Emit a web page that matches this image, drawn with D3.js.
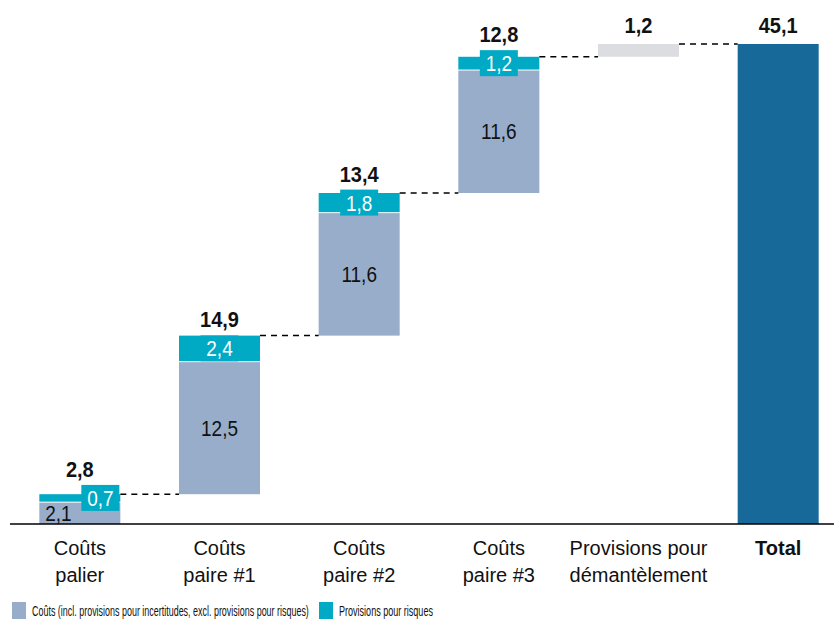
<!DOCTYPE html>
<html>
<head>
<meta charset="utf-8">
<script src="https://cdn.jsdelivr.net/npm/d3@7"></script>
<style>
  body { margin: 0; background: #fff; }
  svg text { font-family: "Liberation Sans", Arial, sans-serif; }
</style>
</head>
<body>
<svg id="chart" width="834" height="621"></svg>
<script>
// data
var categories = ["palier", "paire1", "paire2", "paire3", "demantelement", "total"];
var categoryLines = [["Coûts", "palier"], ["Coûts", "paire #1"], ["Coûts", "paire #2"],
   ["Coûts", "paire #3"], ["Provisions pour", "démantèlement"], ["Total"]];
var costs = [2.1, 12.5, 11.6, 11.6];
var provisions = [0.7, 2.4, 1.8, 1.2];
var decommissioning = 1.2;
var total = 45.1;
var legendLabels = ["Coûts (incl. provisions pour incertitudes, excl. provisions pour risques)",
   "Provisions pour risques"];

var colCost = "#97adc9",
   colProv = "#00aac5",
   colDecom = "#dcdde1",
   colTotal = "#17699a";

function fmt(v) {
   return v.toFixed(1).replace(".", ",");
}

var svg = d3.select("#chart");

var x = d3.scaleBand().domain(categories).range([10, 848]).paddingInner(0.42).paddingOuter(0.21);
var y = d3.scaleLinear().domain([0, total]).range([524, 44]);
var bw = x.bandwidth();

// build stacked pieces
var segs = [], tops = [], base = 0;
costs.forEach(function (c, i) {
   segs.push({cat: categories[i], y0: base, y1: base + c, type: "cost", v: c, i: i});
   segs.push({cat: categories[i], y0: base + c, y1: base + c + provisions[i], type: "prov", v: provisions[i], i: i});
   base += c + provisions[i];
   tops.push({cat: categories[i], level: base, label: fmt(c + provisions[i]), boxed: true, mid: base - provisions[i] / 2});
});
segs.push({cat: "demantelement", y0: base, y1: base + decommissioning, type: "decom"});
base += decommissioning;
tops.push({cat: "demantelement", level: base, label: fmt(decommissioning), boxed: false});
segs.push({cat: "total", y0: 0, y1: total, type: "total"});
tops.push({cat: "total", level: total, label: fmt(total), boxed: false});

var colorOf = {cost: colCost, prov: colProv, decom: colDecom, total: colTotal};

// bars
svg.append("g").selectAll("rect").data(segs).enter().append("rect")
   .attr("x", function (d) { return x(d.cat); })
   .attr("width", bw)
   .attr("y", function (d) { return y(d.y1) + (d.type === "cost" ? 1 : 0); })
   .attr("height", function (d) { return y(d.y0) - y(d.y1) - (d.type === "cost" ? 1 : 0); })
   .attr("fill", function (d) { return colorOf[d.type]; });

// connectors
svg.append("g").selectAll("line").data(tops.slice(0, -1)).enter().append("line")
   .attr("x1", function (d) { return x(d.cat) + bw; })
   .attr("x2", function (d, i) { return x(categories[i + 1]); })
   .attr("y1", function (d) { return y(d.level); })
   .attr("y2", function (d) { return y(d.level); })
   .attr("stroke", "#000")
   .attr("stroke-width", 1.5)
   .attr("stroke-dasharray", "6,5");

// axis line
svg.append("line").attr("x1", 10).attr("x2", 834).attr("y1", 524).attr("y2", 524)
   .attr("stroke", "#000").attr("stroke-width", 1.5);

// cost labels
var costSegs = segs.filter(function (d) { return d.type === "cost"; });
svg.append("g").selectAll("text").data(costSegs).enter().append("text")
   .attr("transform", function (d) {
      var cx = d.i === 0 ? x(d.cat) + 19 : x(d.cat) + bw / 2;
      return "translate(" + cx + "," + (y((d.y0 + d.y1) / 2) + 8) + ") scale(1,1.2)";
   })
   .attr("text-anchor", "middle")
   .attr("font-size", 19)
   .attr("fill", "#111")
   .text(function (d) { return fmt(d.v); });

// provision label boxes
var provSegs = segs.filter(function (d) { return d.type === "prov"; });
var pg = svg.append("g").selectAll("g").data(provSegs).enter().append("g")
   .attr("transform", function (d) {
      var cx = d.i === 0 ? x(d.cat) + bw - 20 : x(d.cat) + bw / 2;
      return "translate(" + cx + "," + y((d.y0 + d.y1) / 2) + ")";
   });
pg.append("rect").attr("x", -19).attr("y", -13).attr("width", 38).attr("height", 26)
   .attr("fill", colProv);
pg.append("text")
   .attr("transform", "translate(0,8) scale(1,1.2)")
   .attr("text-anchor", "middle")
   .attr("font-size", 19)
   .attr("fill", "#fff")
   .text(function (d) { return fmt(d.v); });

// total labels on top
svg.append("g").selectAll("text").data(tops).enter().append("text")
   .attr("transform", function (d) {
      var t = d.boxed ? Math.min(y(d.level), y(d.mid) - 13) : y(d.level);
      return "translate(" + (x(d.cat) + bw / 2) + "," + (t - (d.boxed ? 8 : 11)) + ") scale(1,1.1)";
   })
   .attr("text-anchor", "middle")
   .attr("font-size", 20)
   .attr("font-weight", "bold")
   .attr("fill", "#111")
   .text(function (d) { return d.label; });

// category labels
var cg = svg.append("g").selectAll("text").data(categories).enter().append("text")
   .attr("x", function (d) { return x(d) + bw / 2; })
   .attr("y", 555)
   .attr("text-anchor", "middle")
   .attr("font-size", 20)
   .attr("font-weight", function (d) { return d === "total" ? "bold" : "normal"; })
   .attr("fill", "#111");
cg.selectAll("tspan").data(function (d, i) { return categoryLines[i]; }).enter().append("tspan")
   .attr("x", function () { return x(d3.select(this.parentNode).datum()) + bw / 2; })
   .attr("dy", function (d, i) { return i === 0 ? 0 : 27; })
   .text(function (d) { return d; });

// legend - condensed text squeezed to the reference widths
var legX = [12, 319],
   legW = [277, 94];
var lg = svg.append("g").selectAll("g").data(legendLabels).enter().append("g")
   .attr("transform", function (d, i) { return "translate(" + legX[i] + ",602)"; });
lg.append("rect").attr("width", 14).attr("height", 17)
   .attr("fill", function (d, i) { return i === 0 ? colCost : colProv; });
lg.append("text")
   .attr("font-size", 15)
   .attr("fill", "#111")
   .text(function (d) { return d; })
   .attr("transform", function (d, i) {
      var w = this.getComputedTextLength();
      return "translate(20,14) scale(" + (legW[i] / w) + ",1)";
   });
</script>
</body>
</html>
